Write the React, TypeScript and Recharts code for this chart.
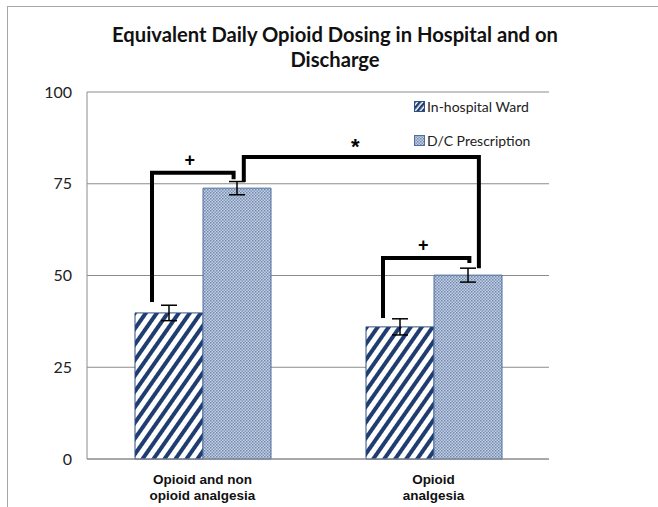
import React from "react";
import { BarChart, Bar, XAxis, YAxis, CartesianGrid, ErrorBar, LabelList, Legend } from "recharts";

const categories = ["Opioid and non opioid analgesia", "Opioid analgesia"];
const categoryLines = [["Opioid and non", "opioid analgesia"], ["Opioid", "analgesia"]];
const seriesNames = ["In-hospital Ward", "D/C Prescription"];
const wardValues = [39.8, 36.0];
const wardErrors = [2.1, 2.2];
const dcValues = [73.8, 50.1];
const dcErrors = [1.8, 1.9];
const yTicks = [0, 25, 50, 75, 100];

// significance brackets: ends are [group, series]; levels in data units
const brackets = [
  { from: [0, 0], to: [0, 1], top: 78, fromEnd: 42.8, toEnd: 76.2, mark: "+" },
  { from: [0, 1], to: [1, 1], top: 82.3, fromEnd: 75.5, toEnd: 52, mark: "*" },
  { from: [1, 0], to: [1, 1], top: 54.8, fromEnd: 38.4, toEnd: 53.4, mark: "+" },
];

const data = categories.map((name, i) => ({
  name,
  ward: wardValues[i],
  wardErr: wardErrors[i],
  dc: dcValues[i],
  dcErr: dcErrors[i],
}));

const W = 658;
const H = 507;
const MARGIN = { top: 92, right: 109, bottom: 0, left: 0 };
const Y_AXIS_W = 87;
const PLOT_W = W - MARGIN.left - MARGIN.right - Y_AXIS_W;
const STEP = PLOT_W / categories.length;
// where along a bar each bracket end sits (fraction of bar width)
const anchorFrac = [
  [0.25, 0.45],
  [0.6, 0.66],
  [0.25, 0.52],
];

const BracketLayer = (props: any) => {
  const vb = props.viewBox && props.viewBox.width != null ? props.viewBox : props;
  if (props.index !== 0) return null;
  const x = Number(vb.x);
  const y = Number(vb.y);
  const width = Number(vb.width);
  const height = Number(vb.height);
  const k = height / dcValues[0];
  const base = y + height;
  const yp = (v: number) => base - v * k;
  const barLeft = (g: number, s: number) => x + g * STEP + (s - 1) * width;
  return (
    <g>
      {brackets.map((b, i) => {
        const x1 = barLeft(b.from[0], b.from[1]) + anchorFrac[i][0] * width;
        const x2 = barLeft(b.to[0], b.to[1]) + anchorFrac[i][1] * width;
        const yt = yp(b.top);
        const star = b.mark === "*";
        return (
          <g key={i}>
            <polyline
              points={`${x1},${yp(b.fromEnd)} ${x1},${yt} ${x2},${yt} ${x2},${yp(b.toEnd)}`}
              fill="none"
              stroke="#000"
              strokeWidth={4}
              strokeLinejoin="miter"
            />
            <text
              x={(x1 + x2) / 2 - (star ? 6 : 3)}
              y={star ? yt - 3 : yt - 7}
              textAnchor="middle"
              fontFamily="Liberation Sans"
              fontWeight={700}
              fontSize={star ? 22 : 18}
              fill="#000"
            >
              {b.mark}
            </text>
          </g>
        );
      })}
    </g>
  );
};

const CategoryTick = (props: any) => {
  const { x, y, payload } = props;
  const idx = categories.indexOf(payload.value);
  const lines = categoryLines[idx] || [payload.value];
  return (
    <g>
      {lines.map((l, i) => (
        <text
          key={i}
          x={x}
          y={y + 17 + i * 16}
          textAnchor="middle"
          fontFamily="Liberation Sans"
          fontWeight={700}
          fontSize={13.5}
          fill="#111"
        >
          {l}
        </text>
      ))}
    </g>
  );
};

const LegendContent = () => (
  <div style={{ fontFamily: "Lato", fontSize: 14, color: "#222" }}>
    {seriesNames.map((n, i) => (
      <div key={n} style={{ display: "flex", alignItems: "center", height: 34 }}>
        <svg width={11} height={11} style={{ display: "block" }}>
          <rect
            x={0.5}
            y={0.5}
            width={10}
            height={10}
            fill={i === 0 ? "url(#hatchLeg)" : "url(#dots)"}
            stroke={i === 0 ? "#2f4f80" : "#4f6f9f"}
          />
        </svg>
        <span style={{ marginLeft: 2 }}>{n}</span>
      </div>
    ))}
  </div>
);

export default function App() {
  return (
    <div style={{ position: "absolute", left: 0, top: 0, width: W, height: H, background: "#fff" }}>
      <div
        style={{
          position: "absolute",
          left: 7,
          top: 6,
          width: W - 7,
          height: H - 6,
          borderLeft: "1.5px solid #a6a6a6",
          borderTop: "1.5px solid #a6a6a6",
          boxSizing: "border-box",
        }}
      />
      <div
        style={{
          position: "absolute",
          left: 12,
          top: 22,
          width: W - 12,
          textAlign: "center",
          fontFamily: "Lato",
          fontWeight: 700,
          fontSize: 20.2,
          lineHeight: "25px",
          color: "#111",
        }}
      >
        Equivalent Daily Opioid Dosing in Hospital and on
        <br />
        Discharge
      </div>
      <div style={{ position: "absolute", left: 0, top: 0 }}>
        <BarChart width={W} height={H} data={data} margin={MARGIN} barGap={0} barCategoryGap={48}>
          <defs>
            <pattern id="hatch" width={9} height={9} patternUnits="userSpaceOnUse" patternTransform="rotate(35)">
              <rect width={9} height={9} fill="#fff" />
              <rect width={4} height={9} fill="#1f3d70" />
            </pattern>
            <pattern id="hatchLeg" width={4} height={4} patternUnits="userSpaceOnUse" patternTransform="rotate(40)">
              <rect width={4} height={4} fill="#fff" />
              <rect width={2.5} height={4} fill="#1f3d70" />
            </pattern>
            <pattern id="dots" width={3} height={3} patternUnits="userSpaceOnUse">
              <rect width={3} height={3} fill="#c6d1e2" />
              <rect width={1.5} height={1.5} fill="#6f88b1" />
              <rect x={1.5} y={1.5} width={1.5} height={1.5} fill="#7d95bb" />
            </pattern>
          </defs>
          <CartesianGrid vertical={false} stroke="#8c8c8c" />
          <XAxis
            dataKey="name"
            height={48}
            tickLine={false}
            axisLine={{ stroke: "#8c8c8c" }}
            tick={<CategoryTick />}
            interval={0}
          />
          <YAxis
            domain={[0, 100]}
            ticks={yTicks}
            width={Y_AXIS_W}
            tickLine={false}
            tickMargin={9}
            axisLine={{ stroke: "#8c8c8c" }}
            tick={{ fontFamily: "Lato", fontSize: 16, fill: "#222" }}
          />
          <YAxis
            yAxisId="r"
            orientation="right"
            domain={[0, 100]}
            width={0}
            tick={false}
            tickLine={false}
            axisLine={{ stroke: "#7f96b8" }}
          />
          <Legend
            layout="horizontal"
            verticalAlign="middle"
            align="center"
            wrapperStyle={{ left: 414, top: 89, width: 150 }}
            content={<LegendContent />}
          />
          <Bar dataKey="ward" name={seriesNames[0]} fill="url(#hatch)" stroke="#2f4f80" strokeWidth={1} isAnimationActive={false}>
            <ErrorBar dataKey="wardErr" width={8} stroke="#000" strokeWidth={1.5} />
          </Bar>
          <Bar dataKey="dc" name={seriesNames[1]} fill="url(#dots)" stroke="#4f6f9f" strokeWidth={1} isAnimationActive={false}>
            <ErrorBar dataKey="dcErr" width={8} stroke="#000" strokeWidth={1.5} />
            <LabelList dataKey="dc" content={<BracketLayer />} />
          </Bar>
        </BarChart>
      </div>
    </div>
  );
}
